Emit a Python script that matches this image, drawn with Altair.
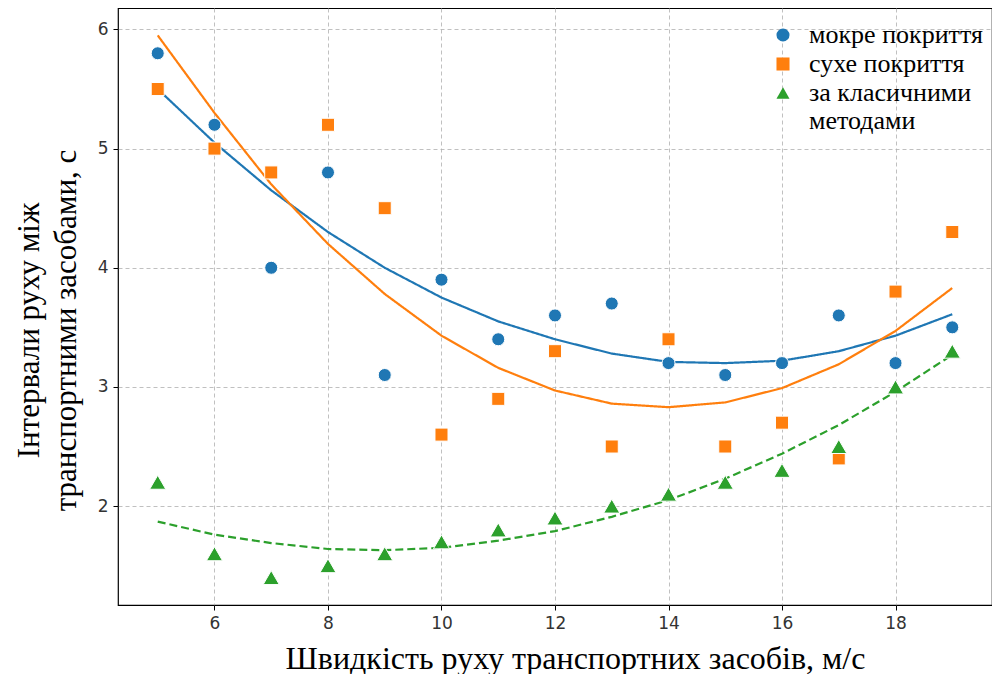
import altair as alt
import pandas as pd

speed = [5, 6, 7, 8, 9, 10, 11, 12, 13, 14, 15, 16, 17, 18, 19]

wet_pts = [5.8, 5.2, 4.0, 4.8, 3.1, 3.9, 3.4, 3.6, 3.7, 3.2, 3.1, 3.2, 3.6, 3.2, 3.5]
dry_pts = [5.5, 5.0, 4.8, 5.2, 4.5, 2.6, 2.9, 3.3, 2.5, 3.4, 2.5, 2.7, 2.4, 3.8, 4.3]
cls_pts = [2.2, 1.6, 1.4, 1.5, 1.6, 1.7, 1.8, 1.9, 2.0, 2.1, 2.2, 2.3, 2.5, 3.0, 3.3]

wet_fit = [5.50, 5.05, 4.65, 4.30, 4.00, 3.75, 3.55, 3.40, 3.28, 3.21, 3.20, 3.22, 3.30, 3.43, 3.61]
dry_fit = [5.95, 5.30, 4.70, 4.20, 3.78, 3.43, 3.16, 2.97, 2.86, 2.83, 2.87, 2.99, 3.19, 3.47, 3.83]
cls_fit = [1.87, 1.76, 1.69, 1.64, 1.63, 1.65, 1.71, 1.79, 1.91, 2.05, 2.23, 2.44, 2.68, 2.96, 3.27]

series = ["мокре покриття", "сухе покриття", "за класичними\nметодами"]
colors = ["#1f77b4", "#ff7f0e", "#2ca02c"]
shapes = ["circle", "square", "triangle-up"]
dashes = [[1, 0], [1, 0], [8, 4]]

pts = pd.DataFrame({
    "v": speed * 3,
    "t": wet_pts + dry_pts + cls_pts,
    "s": [series[0]] * 15 + [series[1]] * 15 + [series[2]] * 15,
})
fits = pd.DataFrame({
    "v": speed * 3,
    "t": wet_fit + dry_fit + cls_fit,
    "f": [series[0]] * 15 + [series[1]] * 15 + [series[2]] * 15,
})

xs = alt.Scale(domain=[4.3, 19.7], nice=False, zero=False)
ys = alt.Scale(domain=[1.17, 6.18], nice=False, zero=False)

x_axis = alt.Axis(
    values=[6, 8, 10, 12, 14, 16, 18], format="d",
    title="Швидкість руху транспортних засобів, м/с",
    titleX=457, titlePadding=12, titleFontSize=32,
)
y_axis = alt.Axis(
    values=[2, 3, 4, 5, 6], format="d",
    title=["Інтервали руху між", "транспортними засобами, с"],
    titleY=322, titlePadding=15, titleLineHeight=37,
)

leg = alt.Legend(
    title=None, orient="none", legendX=652, legendY=14,
    labelExpr="split(datum.label, '\\n')",
    labelFont="Liberation Serif", labelFontSize=26, labelColor="black",
    labelLimit=400, labelOffset=13, rowPadding=3, padding=0,
    symbolSize=170, symbolStrokeWidth=0, symbolStrokeColor="white", symbolOpacity=1,
)

layers = []
for name, c, d in zip(series, colors, dashes):
    layers.append(
        alt.Chart(fits).transform_filter(alt.FieldEqualPredicate(field="f", equal=name))
        .mark_line(strokeWidth=2.2, color=c, strokeDash=d)
        .encode(x=alt.X("v:Q", scale=xs, axis=x_axis), y=alt.Y("t:Q", scale=ys, axis=y_axis))
    )

enc = dict(
    x=alt.X("v:Q", scale=xs),
    y=alt.Y("t:Q", scale=ys),
    color=alt.Color("s:N", scale=alt.Scale(domain=series, range=colors), legend=leg),
    shape=alt.Shape("s:N", scale=alt.Scale(domain=series, range=shapes), legend=leg),
)

pts_main = alt.Chart(pts).transform_filter(
    alt.FieldOneOfPredicate(field="s", oneOf=series[:2])
).mark_point(filled=True, stroke="white", strokeWidth=1, opacity=1, size=170).encode(**enc)

pts_tri = alt.Chart(pts).transform_filter(
    alt.FieldEqualPredicate(field="s", equal=series[2])
).mark_point(filled=True, stroke="white", strokeWidth=1, opacity=1, size=260).encode(**enc)

chart = alt.layer(*layers, pts_main, pts_tri).properties(
    width=874, height=597,
    autosize=alt.AutoSizeParams(type="none"),
    padding={"left": 110, "top": 0, "right": 0, "bottom": 69},
).configure_view(
    stroke="black", strokeWidth=1.2
).configure_axis(
    domain=False,
    grid=True, gridColor="#b0b0b0", gridDash=[4, 3], gridWidth=0.8,
    ticks=True, tickSize=5, tickColor="black", tickWidth=1,
    labelFont="DejaVu Sans", labelFontSize=17, labelColor="#333333", labelPadding=5,
    titleFont="Liberation Serif", titleFontSize=31, titleFontWeight="normal", titleColor="black",
)

chart.save("out.html", embed_options={"renderer": "svg", "actions": False})
